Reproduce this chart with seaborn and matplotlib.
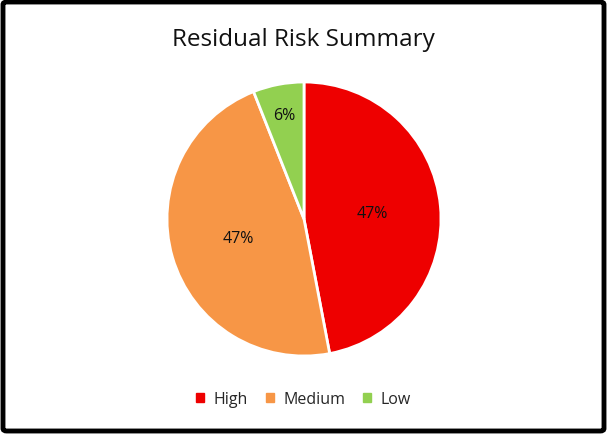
import matplotlib.pyplot as plt
import matplotlib.patches as mpatches
import seaborn as sns

categories = ['High', 'Medium', 'Low']
shares = [47, 47, 6]
colours = ['#EE0000', '#F79646', '#92D050']

sns.set_style("white")
plt.rcParams['font.family'] = ['Open Sans', 'DejaVu Sans']
pal = sns.color_palette(colours)

fig = plt.figure(figsize=(6.07, 4.35), dpi=100)
ax = fig.add_axes([167/607, 78/435, 274/607, 274/435])

wedges, texts, autotexts = ax.pie(shares, colors=pal, startangle=90, counterclock=False,
                                  autopct='%1.0f%%', pctdistance=0.5,
                                  wedgeprops={'edgecolor': 'white', 'linewidth': 2})
ax.set_aspect('equal')
ax.set_xlim(-1.0, 1.0)
ax.set_ylim(-1.0, 1.0)
for t in autotexts:
    t.set_fontsize(11.5)
    t.set_color('#111111')
# the small slice's label sits nearer the rim
x, y = autotexts[2].get_position()
autotexts[2].set_position((x * 0.77 / 0.5, y * 0.77 / 0.5))

fig.text(0.5, 1 - 40/435, 'Residual Risk Summary', ha='center', va='center',
         fontsize=17.5, color='#111111')

handles = [mpatches.Patch(color=c, label=l) for c, l in zip(pal, categories)]
fig.legend(handles=handles, loc='center', bbox_to_anchor=(0.5, 1 - 400/435), ncol=3,
           frameon=False, fontsize=11.5, handlelength=0.5, handleheight=0.5,
           handletextpad=0.6, columnspacing=1.1)

frame = mpatches.FancyBboxPatch((3/607, 3/435), 601/607, 429/435,
                                boxstyle='round,pad=0,rounding_size=0.006',
                                transform=fig.transFigure, fill=False,
                                edgecolor='black', linewidth=3.5)
fig.patches.append(frame)

fig.savefig('out.png', dpi=100)
